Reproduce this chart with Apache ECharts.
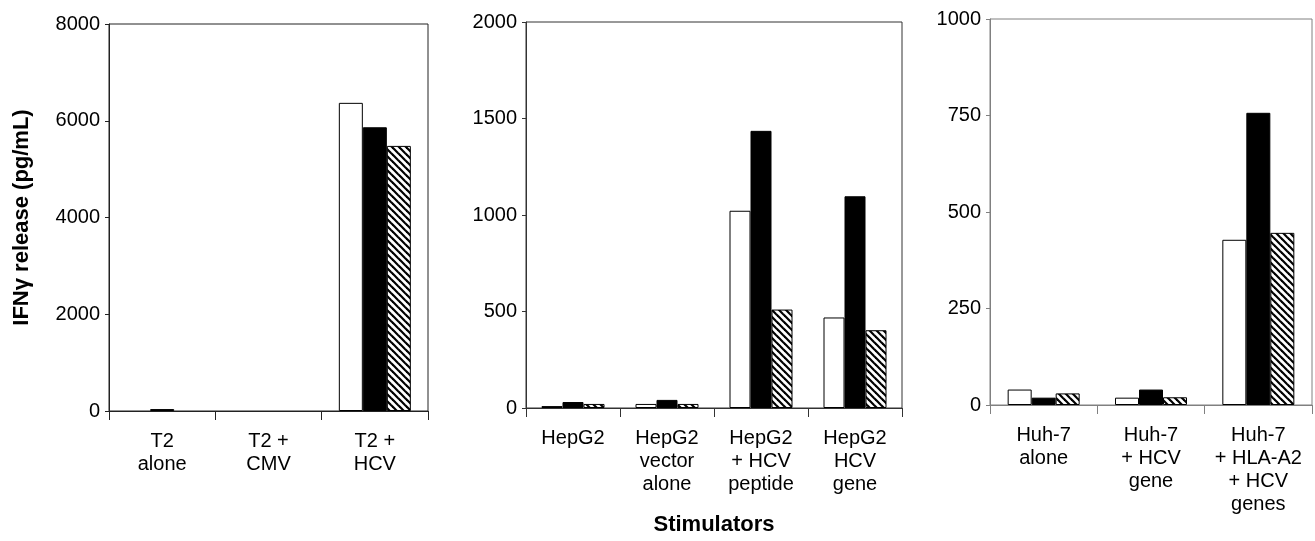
<!DOCTYPE html>
<html>
<head>
<meta charset="utf-8">
<script src="https://cdn.jsdelivr.net/npm/echarts@6/dist/echarts.min.js"></script>
<style>
  html, body { margin: 0; padding: 0; background: #fff; }
  #chart { width: 1315px; height: 541px; }
</style>
</head>
<body>
<div id="chart"></div>
<script>
// panel 1: T2 cells
var t2Cats = ['T2\nalone', 'T2 +\nCMV', 'T2 +\nHCV']
var t2White = [0, 0, 6370]
var t2Black = [40, 0, 5865]
var t2Hatch = [0, 0, 5480]

// panel 2: HepG2 cells
var hepCats = ['HepG2', 'HepG2\nvector\nalone', 'HepG2\n+ HCV\npeptide', 'HepG2\nHCV\ngene']
var hepWhite = [10, 21, 1022, 469]
var hepBlack = [31, 42, 1436, 1097]
var hepHatch = [21, 21, 510, 403]

// panel 3: Huh-7 cells
var huhCats = ['Huh-7\nalone', 'Huh-7\n+ HCV\ngene', 'Huh-7\n+ HLA-A2\n+ HCV\ngenes']
var huhWhite = [40, 19, 428]
var huhBlack = [19, 40, 757]
var huhHatch = [30, 20, 446]

var yTitle = 'IFNγ release (pg/mL)'
var xTitle = 'Stimulators'

var FONT = '"Liberation Sans", Arial, sans-serif'

function makeHatch() {
  var s = 7
  var c = document.createElement('canvas')
  c.width = s
  c.height = s
  var ctx = c.getContext('2d')
  ctx.fillStyle = '#fff'
  ctx.fillRect(0, 0, s, s)
  ctx.strokeStyle = '#000'
  ctx.lineWidth = 2.2
  for (var k = -1; k <= 1; k++) {
    ctx.beginPath()
    ctx.moveTo(k * s - 1, -1)
    ctx.lineTo(k * s + s + 1, s + 1)
    ctx.stroke()
  }
  return c
}
var hatch = { image: makeHatch(), repeat: 'repeat' }

// zero values get no outline, so nothing shows on the baseline
function barData(values) {
  return values.map(function (v) {
    return v === 0 ? { value: v, itemStyle: { borderWidth: 0 } } : v
  })
}

var panels = [
  { cats: t2Cats, white: t2White, black: t2Black, hatch: t2Hatch, max: 8000, step: 2000,
    left: 109, top: 24, width: 319, height: 387, line: '#222', barW: 24 },
  { cats: hepCats, white: hepWhite, black: hepBlack, hatch: hepHatch, max: 2000, step: 500,
    left: 526, top: 22, width: 376, height: 386, line: '#333', barW: 21 },
  { cats: huhCats, white: huhWhite, black: huhBlack, hatch: huhHatch, max: 1000, step: 250,
    left: 990, top: 19, width: 322, height: 386, line: '#808080', barW: 24 }
]

var grid = [], xAxis = [], yAxis = [], series = []

panels.forEach(function (p, i) {
  grid.push({
    left: p.left, top: p.top, width: p.width, height: p.height,
    outerBoundsMode: 'none', containLabel: false,
    show: true, borderColor: p.line, borderWidth: 1, backgroundColor: 'transparent'
  })
  xAxis.push({
    type: 'category', gridIndex: i, data: p.cats,
    axisLine: { lineStyle: { color: p.line, width: 1 } },
    axisTick: { show: true, length: 9, lineStyle: { color: p.line } },
    axisLabel: { color: '#000', fontSize: 20, fontFamily: FONT, lineHeight: 23, margin: 19, interval: 0 },
    name: i === 1 ? xTitle : '',
    nameLocation: 'middle', nameGap: 106,
    nameTextStyle: { color: '#000', fontSize: 22, fontWeight: 'bold', fontFamily: FONT }
  })
  yAxis.push({
    type: 'value', gridIndex: i, min: 0, max: p.max, interval: p.step,
    splitLine: { show: false },
    axisLine: { show: true, lineStyle: { color: p.line, width: 1 } },
    axisTick: { show: true, length: 4, lineStyle: { color: p.line } },
    axisLabel: { color: '#000', fontSize: 20, fontFamily: FONT, margin: 9,
      formatter: function (v) { return String(v) } },
    name: i === 0 ? yTitle : '',
    nameLocation: 'middle', nameGap: 76,
    nameTextStyle: { color: '#000', fontSize: 22, fontWeight: 'bold', fontFamily: FONT }
  })
  var common = { type: 'bar', xAxisIndex: i, yAxisIndex: i, barWidth: p.barW, barGap: '0%', silent: true }
  series.push(Object.assign({}, common, {
    data: barData(p.white), itemStyle: { color: '#fff', borderColor: '#000', borderWidth: 1 }
  }))
  series.push(Object.assign({}, common, {
    data: barData(p.black), itemStyle: { color: '#000', borderColor: '#000', borderWidth: 1 }
  }))
  series.push(Object.assign({}, common, {
    data: barData(p.hatch), itemStyle: { color: hatch, borderColor: '#000', borderWidth: 1 }
  }))
})

var chart = echarts.init(document.getElementById('chart'), null, { renderer: 'canvas' })
chart.setOption({
  animation: false,
  backgroundColor: '#fff',
  grid: grid,
  xAxis: xAxis,
  yAxis: yAxis,
  series: series
})
</script>
</body>
</html>
